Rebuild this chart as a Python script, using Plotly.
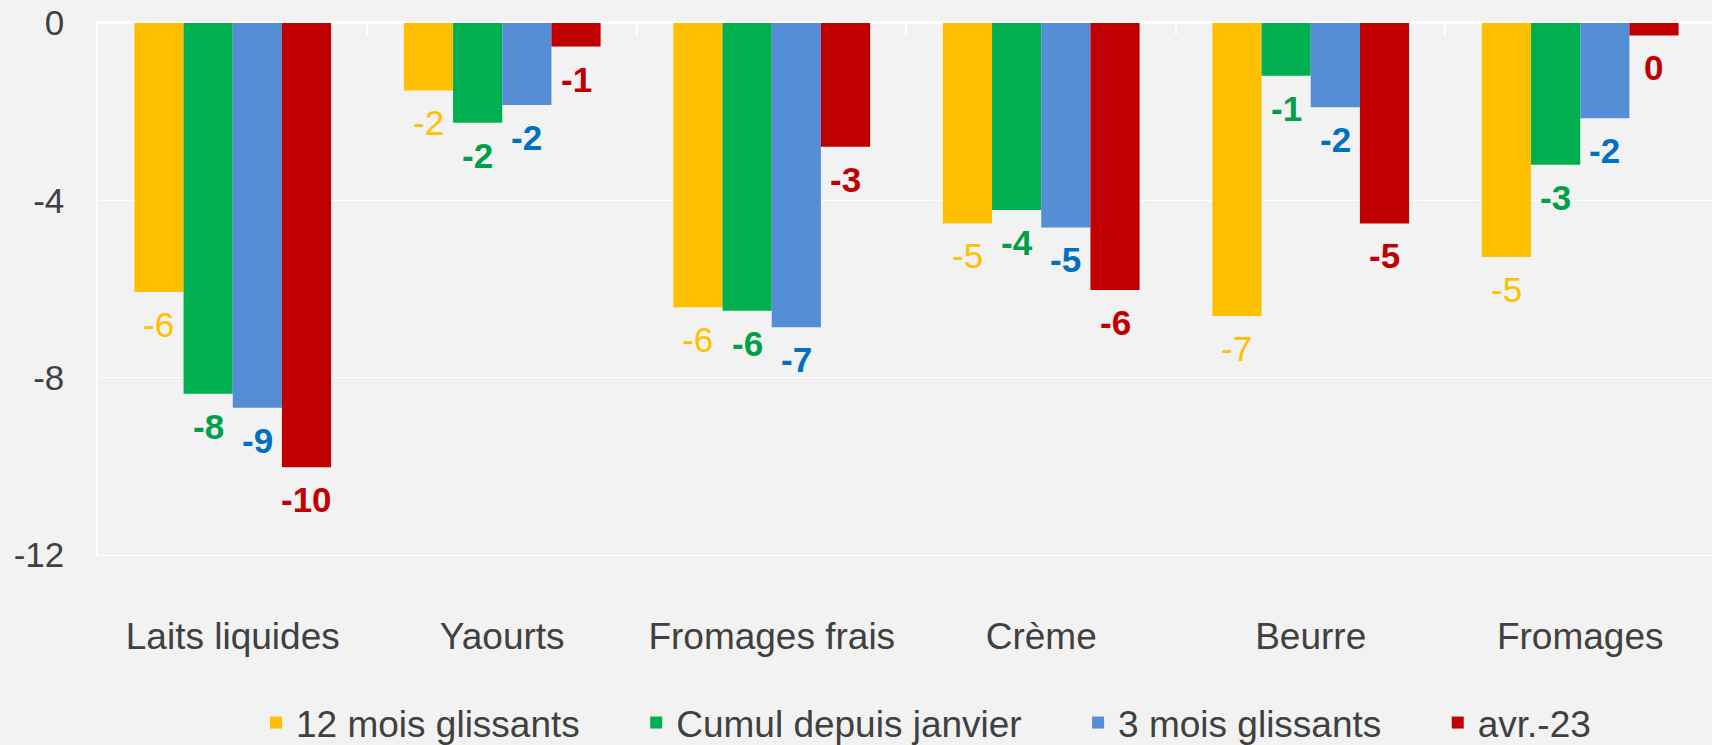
import plotly.graph_objects as go

categories = ["Laits liquides", "Yaourts", "Fromages frais", "Crème", "Beurre", "Fromages"]
series_names = ["12 mois glissants", "Cumul depuis janvier", "3 mois glissants", "avr.-23"]
v_12mois = [-6.07, -1.52, -6.41, -4.52, -6.61, -5.28]
v_cumul = [-8.36, -2.25, -6.49, -4.22, -1.19, -3.20]
v_3mois = [-8.68, -1.85, -6.86, -4.61, -1.90, -2.15]
v_avr23 = [-10.02, -0.53, -2.79, -6.02, -4.52, -0.28]
y_ticks = [-12, -8, -4, 0]

series_values = [v_12mois, v_cumul, v_3mois, v_avr23]
bar_colors = ["#FFC000", "#00B050", "#558ED5", "#C00000"]
label_colors = ["#FFC000", "#00A04A", "#0070C0", "#C00000"]
label_bold = [False, True, True, True]

FONT = "Liberation Sans, Arial, sans-serif"
TXT = "#404040"
BG = "#F2F2F2"
W, H = 1712, 745
ML, MR, MT, MB = 98, 0, 23, 190
BARGAP = 0.27
XR = [-0.5, 5.489]

fig = go.Figure()
for name, vals, col in zip(series_names, series_values, bar_colors):
    fig.add_trace(go.Bar(
        x=categories, y=vals, name=name + "\u00a0" * 5,
        marker=dict(color=col, line=dict(width=0)),
        hoverinfo="x+y",
    ))

# invisible helper trace for the top category axis (boundary ticks)
fig.add_trace(go.Scatter(x=categories, y=[0] * len(categories), xaxis="x2", yaxis="y",
                         mode="markers", marker=dict(opacity=0, size=1),
                         showlegend=False, hoverinfo="skip"))

w = (1 - BARGAP) / len(series_names)
for k, (vals, col, bold) in enumerate(zip(series_values, label_colors, label_bold)):
    for i, v in enumerate(vals):
        lab = f"{round(v):d}"
        if bold:
            lab = f"<b>{lab}</b>"
        fig.add_annotation(
            x=i + (k - 1.5) * w, y=v, xref="x", yref="y",
            text=lab, showarrow=False, yanchor="top", xanchor="center",
            yshift=-11,
            font=dict(family=FONT, size=35, color=col),
        )

fig.update_layout(
    width=W, height=H,
    margin=dict(l=ML, r=MR, t=MT, b=MB, pad=0, autoexpand=False),
    paper_bgcolor=BG, plot_bgcolor=BG,
    barmode="group", bargap=BARGAP, bargroupgap=0,
    font=dict(family=FONT, size=35, color=TXT),
    showlegend=True,
    legend=dict(orientation="h", x=(256 - ML) / (W - ML - MR), xanchor="left",
                y=(H - MB - 723) / (H - MT - MB), yanchor="middle",
                font=dict(family=FONT, size=37, color=TXT),
                bgcolor="rgba(0,0,0,0)", itemclick=False),
    xaxis=dict(type="category", range=XR, showgrid=False, ticks="",
               categoryorder="array", categoryarray=categories,
               showline=True, linecolor="white", linewidth=1, automargin=False,
               tickfont=dict(family=FONT, size=37, color=TXT),
               ticklabelstandoff=49, zeroline=False),
    xaxis2=dict(type="category", overlaying="x", side="top", anchor="y", range=XR,
                categoryorder="array", categoryarray=categories,
                showticklabels=False, ticks="inside", ticklen=12, tickwidth=2,
                tickcolor="white", tickson="boundaries", showgrid=False, automargin=False,
                showline=True, linecolor="white", linewidth=2, zeroline=False),
    yaxis=dict(range=[-12, 0], tickvals=y_ticks, ticktext=[str(t) for t in y_ticks],
               showgrid=True, gridcolor="white", gridwidth=1, automargin=False,
               zeroline=True, zerolinecolor="white", zerolinewidth=2,
               showline=True, linecolor="white", linewidth=1.5, ticks="",
               tickfont=dict(family=FONT, size=35, color=TXT),
               ticklabelstandoff=25),
)

fig.write_html(
    "out.html",
    config={"displayModeBar": False},
    post_script="document.body.style.margin='0';document.body.style.padding='0';"
                "document.body.style.background='#F2F2F2';"
                "document.documentElement.style.overflow='hidden';",
)
